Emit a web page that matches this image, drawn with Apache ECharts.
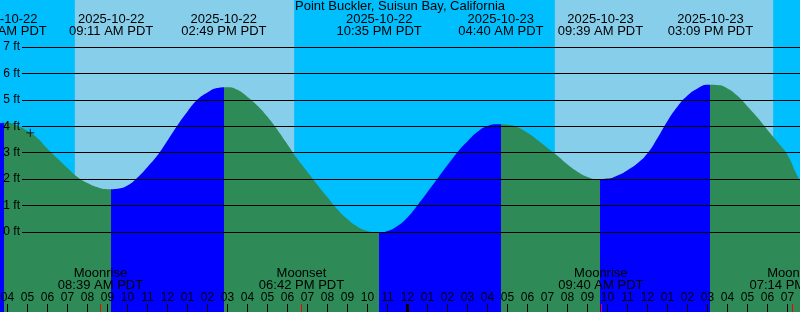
<!DOCTYPE html>
<html><head><meta charset="utf-8">
<script src="https://cdn.jsdelivr.net/npm/echarts@6/dist/echarts.min.js"></script>
<style>html,body{margin:0;padding:0;background:#00BFFF;overflow:hidden}#c{width:800px;height:312px}</style>
</head><body><div id="c"></div>
<script>
// ---- data (times are hours since 2025-10-22 00:00 PDT) ----
const chartTitle = 'Point Buckler, Suisun Bay, California';
const baseDate = '2025-10-22';

// half-hourly water level (ft)
const sampleTimes = [3.5, 4, 4.5, 5, 5.5, 6, 6.5, 7, 7.5, 8, 8.5, 9, 9.5, 10, 10.5, 11, 11.5, 12, 12.5, 13, 13.5, 14, 14.5, 15, 15.5, 16, 16.5, 17, 17.5, 18, 18.5, 19, 19.5, 20, 20.5, 21, 21.5, 22, 22.5, 23, 23.5, 24, 24.5, 25, 25.5, 26, 26.5, 27, 27.5, 28, 28.5, 29, 29.5, 30, 30.5, 31, 31.5, 32, 32.5, 33, 33.5, 34, 34.5, 35, 35.5, 36, 36.5, 37, 37.5, 38, 38.5, 39, 39.5, 40, 40.5, 41, 41.5, 42, 42.5, 43, 43.5, 44];
const sampleHeights = [4.13, 4.15, 4.04, 3.84, 3.57, 3.17, 2.80, 2.44, 2.10, 1.87, 1.71, 1.64, 1.66, 1.78, 2.08, 2.48, 2.92, 3.48, 4.06, 4.58, 5.03, 5.30, 5.47, 5.50, 5.40, 5.13, 4.80, 4.38, 3.88, 3.33, 2.78, 2.29, 1.80, 1.33, 0.87, 0.50, 0.22, 0.06, 0.00, 0.06, 0.25, 0.57, 1.03, 1.53, 2.04, 2.55, 3.04, 3.45, 3.81, 4.03, 4.10, 4.08, 3.98, 3.77, 3.50, 3.20, 2.90, 2.57, 2.30, 2.10, 2.02, 2.04, 2.16, 2.36, 2.62, 3.00, 3.58, 4.22, 4.77, 5.18, 5.45, 5.59, 5.58, 5.45, 5.17, 4.77, 4.35, 3.88, 3.42, 2.93, 2.14, 1.55];

// high / low tides
const extremeDates  = ['2025-10-22', '2025-10-22', '2025-10-22', '2025-10-22', '2025-10-23', '2025-10-23', '2025-10-23'];
const extremeClock  = ['03:50 AM', '09:11 AM', '02:49 PM', '10:35 PM', '04:40 AM', '09:39 AM', '03:09 PM'];
const extremeRising = [false, true, false, true, false, true, false]; // trend after each extreme

// moon events
const moonEvents = ['Moonrise', 'Moonset', 'Moonrise', 'Moonset'];
const moonDates  = ['2025-10-22', '2025-10-22', '2025-10-23', '2025-10-23'];
const moonClock  = ['08:39 AM', '06:42 PM', '09:40 AM', '07:14 PM'];

// daylight periods
const sunriseDates = ['2025-10-22', '2025-10-23'];
const sunriseClock = ['07:22 AM', '07:22 AM'];
const sunsetClock  = ['06:20 PM', '06:17 PM'];

// axes
const hourTicks = [4,5,6,7,8,9,10,11,12,13,14,15,16,17,18,19,20,21,22,23,24,25,26,27,28,29,30,31,32,33,34,35,36,37,38,39,40,41,42,43];
const midnightTicks = [24];
const heightTicks = [0, 1, 2, 3, 4, 5, 6, 7];
const xRange = [3.625, 43.625];

// current time marker
const nowTime = 5.14;
const nowHeight = 3.77;

// ---- helpers ----
function toHours(date, clock) {
  const d = (Date.parse(date) - Date.parse(baseDate)) / 3600000;
  const m = clock.match(/(\d+):(\d+)\s*(AM|PM)/);
  let h = parseInt(m[1], 10) % 12;
  if (m[3] === 'PM') h += 12;
  return d + h + parseInt(m[2], 10) / 60;
}
const extremeTimes = extremeDates.map((d, i) => toHours(d, extremeClock[i]));
const moonTimes = moonDates.map((d, i) => toHours(d, moonClock[i]));
const dayAreas = sunriseDates.map((d, i) => [{ xAxis: toHours(d, sunriseClock[i]) }, { xAxis: toHours(d, sunsetClock[i]) }]);
const tideData = sampleTimes.map((t, i) => [t, sampleHeights[i]]);

const BLUE = '#0000FF', GREEN = '#2E8B57';
const pieces = [];
pieces.push({ lt: extremeTimes[0], color: extremeRising[0] ? GREEN : BLUE });
extremeTimes.forEach((t, i) => {
  const p = { gte: t, color: extremeRising[i] ? BLUE : GREEN };
  if (i + 1 < extremeTimes.length) p.lt = extremeTimes[i + 1];
  pieces.push(p);
});

function findIdx(arr, v) {
  let best = 0;
  arr.forEach((a, i) => { if (Math.abs(a - v) < Math.abs(arr[best] - v)) best = i; });
  return best;
}
const FONT = 'Liberation Sans';
const hidden = { show: false };
const noLine = { show: false, onZero: false };

const chart = echarts.init(document.getElementById('c'), null, { renderer: 'canvas' });
chart.setOption({
  animation: false,
  backgroundColor: '#00BFFF',
  title: {
    text: chartTitle, left: 'center', top: 0, padding: 0,
    textStyle: { fontFamily: FONT, fontSize: 13, fontWeight: 'normal', color: '#000' }
  },
  grid: [
    { left: 0, right: 0, top: 0, bottom: 0, show: false, containLabel: false, outerBoundsMode: 'none' },
    { left: 22, right: 0, top: 47, height: 185, show: false, containLabel: false, outerBoundsMode: 'none' }
  ],
  visualMap: {
    type: 'piecewise', show: false, dimension: 0, seriesIndex: 1, pieces: pieces
  },
  xAxis: [
    { // hours
      type: 'value', gridIndex: 0, min: xRange[0], max: xRange[1], position: 'bottom', z: 10,
      axisLine: noLine, splitLine: hidden,
      axisTick: { show: true, inside: true, length: 8, customValues: hourTicks, lineStyle: { color: '#000', width: 1 } },
      axisLabel: {
        show: true, inside: true, margin: 8, customValues: hourTicks, hideOverlap: false,
        fontFamily: FONT, fontSize: 12, color: '#000',
        formatter: v => { let h = Math.round(v) % 12; if (h === 0) h = 12; return (h < 10 ? '0' : '') + h; }
      }
    },
    { // tide labels on top
      type: 'value', gridIndex: 0, min: xRange[0], max: xRange[1], position: 'top', z: 10,
      axisLine: noLine, splitLine: hidden, axisTick: hidden,
      axisLabel: {
        show: true, inside: true, margin: 13, customValues: extremeTimes, hideOverlap: false,
        fontFamily: FONT, fontSize: 13, lineHeight: 12, color: '#000',
        formatter: v => { const i = findIdx(extremeTimes, v); return extremeDates[i] + '\n' + extremeClock[i] + ' PDT'; }
      }
    },
    { // moon events
      type: 'value', gridIndex: 0, min: xRange[0], max: xRange[1], position: 'bottom', z: 11,
      axisLine: noLine, splitLine: hidden,
      axisTick: { show: true, inside: true, length: 8, customValues: moonTimes, lineStyle: { color: '#FF0000', width: 1 } },
      axisLabel: {
        show: true, inside: true, margin: 21, customValues: moonTimes, hideOverlap: false,
        fontFamily: FONT, fontSize: 13, lineHeight: 12, color: '#000',
        formatter: v => { const i = findIdx(moonTimes, v); return moonEvents[i] + '\n' + moonClock[i] + ' PDT'; }
      }
    },
    { // midnight marker
      type: 'value', gridIndex: 0, min: xRange[0], max: xRange[1], position: 'bottom', z: 11,
      axisLine: noLine, splitLine: hidden, axisLabel: hidden,
      axisTick: { show: true, inside: true, length: 8, customValues: midnightTicks, lineStyle: { color: '#000', width: 3 } }
    },
    {
      type: 'value', gridIndex: 1, min: xRange[0], max: xRange[1], show: false,
      axisLine: noLine, axisTick: hidden, axisLabel: hidden, splitLine: hidden
    }
  ],
  yAxis: [
    {
      type: 'value', gridIndex: 0, min: -3.008, max: 8.797, show: false,
      axisLine: noLine, axisTick: hidden, axisLabel: hidden, splitLine: hidden
    },
    {
      type: 'value', gridIndex: 1, min: heightTicks[0], max: heightTicks[heightTicks.length - 1], interval: 1, z: 10,
      axisLine: noLine, axisTick: hidden,
      splitLine: { show: true, lineStyle: { color: '#000', width: 1 } },
      axisLabel: { show: true, margin: 2, fontFamily: FONT, fontSize: 12, color: '#000', formatter: '{value} ft' }
    }
  ],
  series: [
    {
      type: 'line', xAxisIndex: 0, yAxisIndex: 0, data: [], z: 1, silent: true,
      markArea: { silent: true, itemStyle: { color: '#87CEEB' }, data: dayAreas }
    },
    {
      type: 'line', xAxisIndex: 0, yAxisIndex: 0, data: tideData, z: 2,
      smooth: 0.5, symbol: 'none', silent: true,
      lineStyle: { width: 0, opacity: 0 },
      areaStyle: { opacity: 1, origin: 'start' }
    },
    {
      type: 'scatter', xAxisIndex: 0, yAxisIndex: 0, data: [[nowTime, nowHeight]], z: 5, silent: true,
      symbol: 'path://M0,4L8,4M4,0L4,8', symbolSize: 8,
      itemStyle: { color: 'rgba(0,0,0,0)', borderColor: '#000', borderWidth: 1 }
    }
  ]
});
</script>
</body></html>
